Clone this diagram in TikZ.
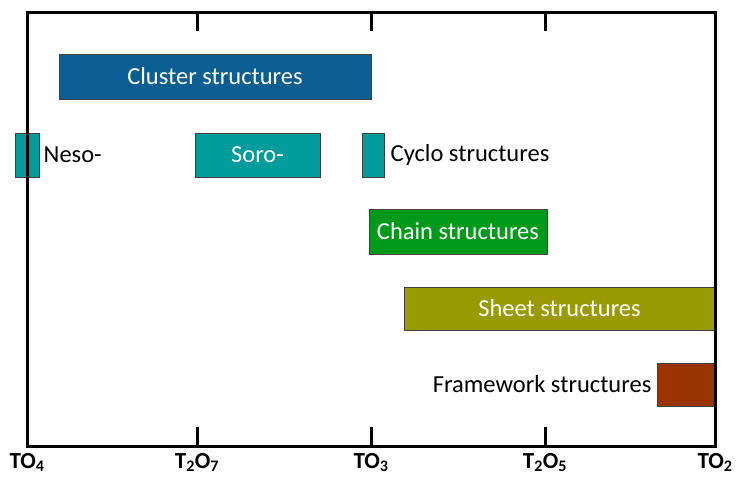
\documentclass[tikz,border=0pt]{standalone}
\usepackage{fontspec}
\setmainfont{Carlito}
\usepackage{tikz}
\usetikzlibrary{positioning}
\definecolor{stblue}{HTML}{0B5E91}
\definecolor{stteal}{HTML}{009B9B}
\definecolor{stgreen}{HTML}{009A1A}
\definecolor{stolive}{HTML}{999900}
\definecolor{stbrown}{HTML}{993300}
\tikzset{
  unitBox/.style={draw=black!75, line width=1pt, inner sep=0pt, text=white, font=\fontsize{24.5}{29}\selectfont},
  sideLabel/.style={inner sep=0pt, font=\fontsize{24.5}{29}\selectfont},
  axisLabel/.style={inner sep=0pt, font=\fontsize{23}{27}\selectfont\bfseries}
}

\begin{document}
\begin{tikzpicture}[x=1pt,y=-1pt]
  \useasboundingbox (0,0) rectangle (739,479);
  % boxes
  \node[unitBox, fill=stblue, minimum width=312pt, minimum height=45pt] (cluster) at (215,76.5){Cluster structures};
  \node[unitBox, fill=stteal, minimum width=24pt, minimum height=44pt] (neso) at (27,155){};
  \node[unitBox, fill=stteal, minimum width=125pt, minimum height=44pt] (soro) at (257.5,155){Soro-};
  \node[unitBox, fill=stteal, minimum width=22pt, minimum height=44pt] (cyclo) at (373,155){};
  \node[unitBox, fill=stgreen, minimum width=178pt, minimum height=45pt] (chain) at (458,231.5){Chain structures};
  \node[unitBox, fill=stolive, minimum width=311pt, minimum height=43pt] (sheet) at (559.5,308.5){Sheet structures};
  \node[unitBox, fill=stbrown, minimum width=58pt, minimum height=43pt] (frame) at (686,384.5){};
  % labels beside small boxes
  \node[sideLabel, right=4pt of neso] (nesoLab){Neso-};
  \node[sideLabel, right=6pt of cyclo] (cycloLab){Cyclo structures};
  \node[sideLabel, left=5pt of frame] (frameLab){Framework structures};
  % frame and ticks
  \draw[line width=3pt] (27,12) rectangle (715,446);
  \foreach \x/\lab in {27/TO\textsubscript{4},197/T\textsubscript{2}O\textsubscript{7},371/TO\textsubscript{3},545/T\textsubscript{2}O\textsubscript{5},715/TO\textsubscript{2}}
  {
    \draw[line width=3pt] (\x,12) -- (\x,31);
    \draw[line width=3pt] (\x,446) -- (\x,427);
    \node[axisLabel, anchor=base] at (\x,468){\lab};
  }
\end{tikzpicture}
\end{document}
